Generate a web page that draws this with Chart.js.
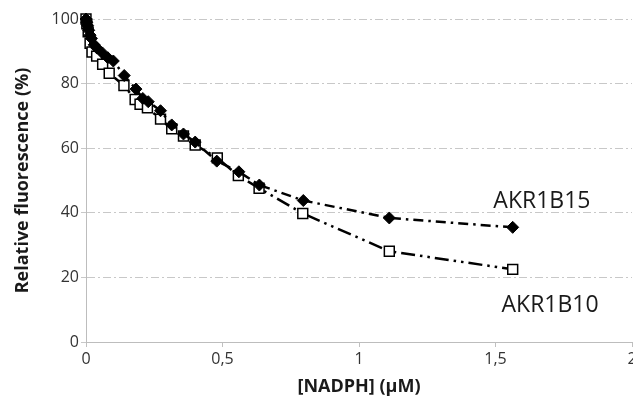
<!DOCTYPE html>
<html>
<head>
<meta charset="utf-8">
<script src="https://cdn.jsdelivr.net/npm/chart.js@4/dist/chart.umd.min.js"></script>
<style>
html,body{margin:0;padding:0;background:#fff;}
#wrap{width:633px;height:398px;}
</style>
</head>
<body>
<div id="wrap"><canvas id="c" width="633" height="398"></canvas></div>
<script>
// NADPH concentration (µM) and relative fluorescence (%)
const xAKR1B15 = [0, 0.003, 0.006, 0.01, 0.015, 0.02, 0.03, 0.04, 0.06, 0.08, 0.1, 0.14, 0.183, 0.208, 0.228, 0.273, 0.314, 0.357, 0.4, 0.479, 0.56, 0.635, 0.796, 1.111, 1.563];
const yAKR1B15 = [100, 99, 98, 96.5, 95, 94, 92, 91, 89.5, 88, 87, 82.5, 78.3, 75.4, 74.4, 71.6, 67.2, 64.4, 61.9, 56, 52.7, 48.6, 43.8, 38.4, 35.5];
const xAKR1B10 = [0, 0.003, 0.008, 0.015, 0.022, 0.039, 0.061, 0.085, 0.139, 0.18, 0.198, 0.225, 0.273, 0.314, 0.357, 0.4, 0.481, 0.558, 0.634, 0.794, 1.111, 1.563];
const yAKR1B10 = [100, 98.5, 96, 92.5, 89.8, 88.5, 86, 83.2, 79.4, 75.1, 73.6, 72.5, 69, 66, 63.8, 61, 57, 51.5, 47.6, 39.8, 28.1, 22.5];
const seriesNames = ['AKR1B15', 'AKR1B10'];
const labelPos = [{x: 1.67, y: 43.4}, {x: 1.70, y: 11.2}];
const xTitle = '[NADPH] (\u00b5M)';
const yTitle = 'Relative fluorescence (%)';

const toPts = (xs, ys) => xs.map((x, i) => ({x: x, y: ys[i]}));

const labelPlugin = {
  id: 'seriesLabels',
  afterDatasetsDraw(chart) {
    const {ctx, scales} = chart;
    ctx.save();
    ctx.font = '23px "Open Sans", sans-serif';
    ctx.fillStyle = '#1a1a1a';
    ctx.textAlign = 'center';
    ctx.textBaseline = 'middle';
    seriesNames.forEach((n, i) => {
      ctx.fillText(n, scales.x.getPixelForValue(labelPos[i].x), scales.y.getPixelForValue(labelPos[i].y));
    });
    ctx.restore();
  }
};

new Chart(document.getElementById('c'), {
  type: 'scatter',
  data: {
    datasets: [
      {
        label: seriesNames[0],
        data: toPts(xAKR1B15, yAKR1B15),
        showLine: true,
        clip: false,
        borderColor: '#000',
        borderWidth: 2.5,
        borderDash: [10, 5, 2.5, 5],
        pointStyle: 'rectRot',
        pointRadius: 6,
        pointBackgroundColor: '#000',
        pointBorderColor: '#000',
        pointBorderWidth: 1
      },
      {
        label: seriesNames[1],
        data: toPts(xAKR1B10, yAKR1B10),
        showLine: true,
        clip: false,
        borderColor: '#000',
        borderWidth: 2.5,
        borderDash: [14, 5, 2.5, 5, 2.5, 5],
        pointStyle: 'rect',
        pointRadius: 7,
        pointBackgroundColor: '#fff',
        pointBorderColor: '#000',
        pointBorderWidth: 1.5
      }
    ]
  },
  options: {
    responsive: false,
    animation: false,
    layout: {autoPadding: false, padding: {top: 19, right: 1, left: 12, bottom: 0}},
    plugins: {legend: {display: false}, tooltip: {enabled: false}},
    scales: {
      x: {
        type: 'linear',
        min: 0, max: 2,
        ticks: {
          stepSize: 0.5,
          color: '#333',
          font: {family: '"Open Sans", sans-serif', size: 16},
          padding: 3,
          callback: v => String(v).replace('.', ',')
        },
        grid: {display: true, drawOnChartArea: false, drawTicks: true, tickLength: 5, color: '#c0c0c0'},
        border: {display: true, color: '#bdbdbd', width: 1},
        title: {display: true, text: xTitle, color: '#1a1a1a', font: {family: '"Open Sans", sans-serif', size: 18, weight: 'bold'}, padding: {top: 0, bottom: 0}},
        afterFit(s) { s.height = 56; s.paddingLeft = 0; s.paddingRight = 0; }
      },
      y: {
        min: 0, max: 100,
        ticks: {
          stepSize: 20,
          color: '#333',
          font: {family: '"Open Sans", sans-serif', size: 16},
          padding: 2
        },
        grid: {color: '#c8c8c8', tickLength: 5, lineWidth: 1},
        border: {display: true, color: '#bdbdbd', width: 1, dash: [8, 3, 2, 3]},
        title: {display: true, text: yTitle, color: '#1a1a1a', font: {family: '"Open Sans", sans-serif', size: 18, weight: 'bold'}, padding: {top: 0, bottom: 0}},
        afterFit(s) { s.width = 74; s.paddingTop = 0; s.paddingBottom = 0; }
      }
    }
  },
  plugins: [labelPlugin]
});
</script>
</body>
</html>
